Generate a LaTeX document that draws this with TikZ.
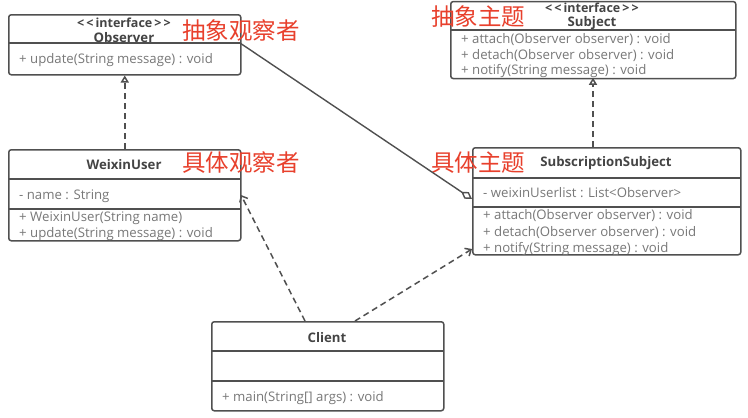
\documentclass[tikz,border=0pt]{standalone}
\usepackage{fontspec}
\setmainfont{Open Sans}
\newfontfamily\cjk{Noto Sans CJK SC}
\usetikzlibrary{arrows.meta,calc}
\definecolor{linec}{HTML}{505050}
\definecolor{namec}{HTML}{444444}
\definecolor{memc}{HTML}{787878}
\definecolor{redc}{HTML}{E8402C}
\tikzset{
  box/.style={draw=linec, line width=1.5pt, rounded corners=2.5pt, inner sep=0pt, anchor=north west},
  divl/.style={draw=linec, line width=1.5pt},
  cname/.style={font=\fontsize{13.2}{15}\selectfont\bfseries, text=namec, inner sep=0pt},
  stereo/.style={font=\fontsize{12.5}{14}\selectfont\bfseries, text=namec, inner sep=0pt},
  mem/.style={font=\fontsize{13.2}{15}\selectfont, text=memc, inner sep=0pt, anchor=west},
  cnlab/.style={font=\cjk\fontsize{23.5}{26}\selectfont, text=redc, inner sep=0pt, anchor=west},
  realize/.style={draw=linec, line width=1.5pt, dash pattern=on 6pt off 4pt, -{Triangle[open, length=7pt, width=8pt]}},
  depend/.style={draw=linec, line width=1.5pt, dash pattern=on 6pt off 4pt, -{Straight Barb[length=5pt, width=9pt]}},
  aggr/.style={draw=linec, line width=1.4pt, -{Diamond[open, length=13pt, width=8pt]}}
}
\begin{document}
\begin{tikzpicture}[x=1pt,y=-1pt]
\useasboundingbox[fill=white] (0,0) rectangle (748,418);

% Observer
\node[box, minimum width=232pt, minimum height=60pt] (obs) at (8,14) {};
\draw[divl] (8,43) -- (240,43);
\node[stereo] (obsst) at (124,23) {{<}\,{<}\,interface\,{>}\,{>}};
\node[cname] (obsnm) at (124,38) {Observer};
\node[mem] (obsm1) at (19,60) {+ update(String message) : void};

% Subject
\node[box, minimum width=285pt, minimum height=77pt] (sub) at (450,0.8) {};
\draw[divl] (450,30) -- (735,30);
\node[stereo] (subst) at (592,8) {{<}\,{<}\,interface\,{>}\,{>}};
\node[cname] (subnm) at (592,23) {Subject};
\node[mem] (subm1) at (461,40) {+ attach(Observer observer) : void};
\node[mem] (subm2) at (461,55.5) {+ detach(Observer observer) : void};
\node[mem] (subm3) at (461,71) {+ notify(String message) : void};

% WeixinUser
\node[box, minimum width=232pt, minimum height=91pt] (wu) at (8,149) {};
\draw[divl] (8,179) -- (240,179);
\draw[divl] (8,209) -- (240,209);
\node[cname] (wunm) at (124,165) {WeixinUser};
\node[mem] (wua1) at (19,196) {- name : String};
\node[mem] (wum1) at (19,218) {+ WeixinUser(String name)};
\node[mem] (wum2) at (19,234) {+ update(String message) : void};

% SubscriptionSubject
\node[box, minimum width=268pt, minimum height=107pt] (ss) at (472,147) {};
\draw[divl] (472,178) -- (740,178);
\draw[divl] (472,207) -- (740,207);
\node[cname] (ssnm) at (606,163) {SubscriptionSubject};
\node[mem] (ssa1) at (483,193) {- weixinUserlist : List{<}Observer{>}};
\node[mem] (ssm1) at (483,216) {+ attach(Observer observer) : void};
\node[mem] (ssm2) at (483,232.5) {+ detach(Observer observer) : void};
\node[mem] (ssm3) at (483,249) {+ notify(String message) : void};

% Client
\node[box, minimum width=232pt, minimum height=89pt] (cl) at (211,321) {};
\draw[divl] (211,351) -- (443,351);
\draw[divl] (211,381) -- (443,381);
\node[cname] (clnm) at (327,338) {Client};
\node[mem] (clm1) at (222,398) {+ main(String[] args) : void};

% Chinese labels
\node[cnlab] (l1) at (182,31) {抽象观察者};
\node[cnlab] (l2) at (431,17) {抽象主题};
\node[cnlab] (l3) at (182,163) {具体观察者};
\node[cnlab] (l4) at (431,163) {具体主题};

% connectors
\coordinate (obsR) at (240,43);
\coordinate (ssAg) at (472,199);
\coordinate (wuDep) at (241,195);
\coordinate (ssDep) at (472,249);
\coordinate (clA) at (305,321);
\coordinate (clB) at (355,321);
\coordinate (ssTop) at (593,147);
\coordinate (subBot) at (593,77.8);
\draw[realize] (wu.north) -- (obs.south);
\draw[realize] (ssTop) -- (subBot);
\draw[aggr] (obsR) -- (ssAg);
\draw[depend] (clA) -- (wuDep);
\draw[depend] (clB) -- (ssDep);
\end{tikzpicture}
\end{document}
